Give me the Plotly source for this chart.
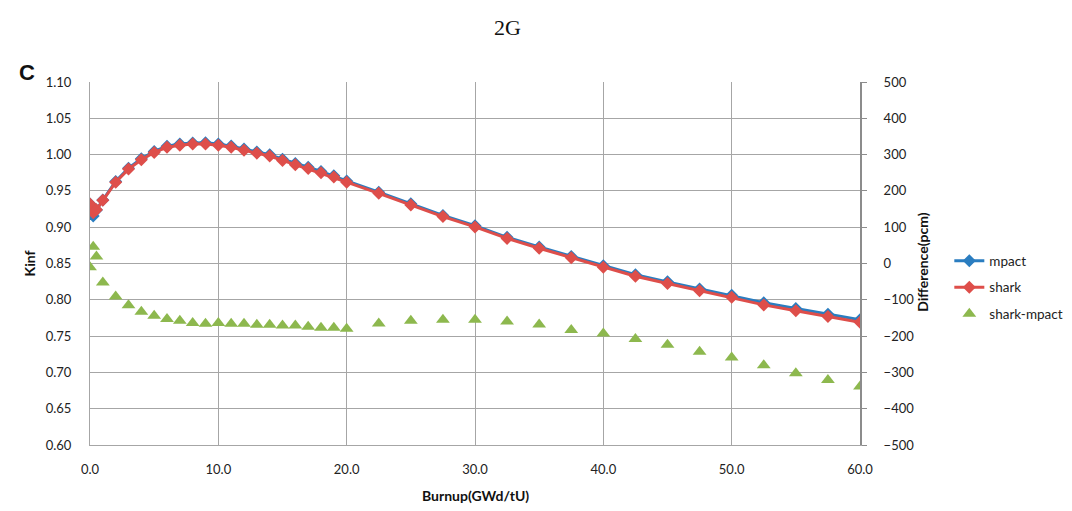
import plotly.graph_objects as go

burnup = [0, 0.25, 0.5, 1, 2, 3, 4, 5, 6, 7, 8, 9, 10, 11, 12, 13, 14, 15, 16, 17, 18, 19, 20,
          22.5, 25, 27.5, 30, 32.5, 35, 37.5, 40, 42.5, 45, 47.5, 50, 52.5, 55, 57.5, 60]
mpact = [0.9321, 0.9155, 0.9238, 0.9375, 0.9629, 0.9812, 0.9943, 1.0044, 1.0115, 1.0146, 1.0161,
         1.0162, 1.0146, 1.0117, 1.0077, 1.0037, 0.9997, 0.9937, 0.9877, 0.9827, 0.9768, 0.9708,
         0.9638, 0.9483, 0.9322, 0.9162, 0.9020, 0.8861, 0.8727, 0.8598, 0.8469, 0.8346, 0.8247,
         0.8149, 0.8061, 0.7958, 0.7880, 0.7802, 0.7724]
shark = [0.9320, 0.9200, 0.9240, 0.9370, 0.9620, 0.9800, 0.9930, 1.0030, 1.0100, 1.0130, 1.0145,
         1.0145, 1.0130, 1.0100, 1.0060, 1.0020, 0.9980, 0.9920, 0.9860, 0.9810, 0.9750, 0.9690,
         0.9620, 0.9466, 0.9306, 0.9146, 0.9004, 0.8845, 0.8710, 0.8580, 0.8450, 0.8325, 0.8225,
         0.8125, 0.8035, 0.7930, 0.7850, 0.7770, 0.7690]
diff = [-10, 46, 19, -52, -91, -115, -133, -144, -153, -158, -164, -166, -164, -166, -166, -169,
        -169, -171, -171, -174, -177, -177, -180, -165, -158, -155, -155, -160, -168, -183, -193,
        -208, -224, -243, -259, -280, -302, -321, -339]

BLUE = "#2A7DC0"
RED = "#DE4E4A"
GREEN = "#8DB84E"
GRID = "#A6A6A6"
FONT = "Lato"

fig = go.Figure()
fig.add_trace(go.Scatter(x=burnup, y=mpact, name="mpact", mode="lines+markers", legendgroup="a",
                         line=dict(color=BLUE, width=3),
                         marker=dict(symbol="diamond", size=10, color=BLUE)))
fig.add_trace(go.Scatter(x=burnup, y=shark, name="shark", mode="lines+markers", legendgroup="b",
                         line=dict(color=RED, width=3),
                         marker=dict(symbol="diamond", size=10, color=RED)))
fig.add_trace(go.Scatter(x=burnup, y=diff, name="shark-mpact", mode="markers", yaxis="y2",
                         legendgroup="c",
                         marker=dict(symbol="triangle-up", size=12, color=GREEN)))

ann_common = dict(xref="paper", yref="paper", showarrow=False, xanchor="center", yanchor="middle")

fig.update_layout(
    width=1072, height=511,
    margin=dict(l=82, r=220, t=74, b=74, autoexpand=False),
    paper_bgcolor="white", plot_bgcolor="white",
    font=dict(family=FONT, size=13, color="#222"),
    showlegend=True,
    legend=dict(x=1.116, y=0.55, xanchor="left", yanchor="top",
                font=dict(family=FONT, size=13.5, color="#222"),
                tracegroupgap=6, itemwidth=30, bgcolor="rgba(0,0,0,0)"),
    xaxis=dict(range=[0, 60], dtick=10, tickformat=".1f", showgrid=True, gridcolor=GRID,
               gridwidth=1, showline=True, linecolor=GRID, linewidth=1, zeroline=False,
               ticks="", ticklabelstandoff=12, tickfont=dict(size=13), automargin=False),
    yaxis=dict(range=[0.6, 1.1], dtick=0.05, tickformat=".2f", showgrid=True, gridcolor=GRID,
               gridwidth=1, showline=True, linecolor=GRID, linewidth=1, zeroline=False,
               ticks="", ticklabelstandoff=15, tickfont=dict(size=13), automargin=False),
    yaxis2=dict(range=[-500, 500], dtick=100, overlaying="y", side="right", showgrid=False,
                showline=True, linecolor="#8C8C8C", linewidth=2, zeroline=False,
                ticks="outside", ticklen=5, tickcolor="#8C8C8C", ticklabelstandoff=14,
                tickfont=dict(size=13), automargin=False),
    annotations=[
        dict(text="2G", x=0.5416, y=1.1515,
             font=dict(family="Liberation Serif", size=22, color="#111"), **ann_common),
        dict(text="<b>C</b>", x=-0.0818, y=1.0275,
             font=dict(family="Liberation Sans", size=22, color="#111"), **ann_common),
        dict(text="<b>Kinf</b>", x=-0.078, y=0.5, textangle=-90,
             font=dict(family=FONT, size=14, color="#111"), **ann_common),
        dict(text="<b>Difference(pcm)</b>", x=1.0801, y=0.504, textangle=-90,
             font=dict(family=FONT, size=14, color="#111"), **ann_common),
        dict(text="<b>Burnup(GWd/tU)</b>", x=0.5, y=-0.138,
             font=dict(family=FONT, size=14, color="#111"), **ann_common),
    ],
)

fig.write_html("out.html")
